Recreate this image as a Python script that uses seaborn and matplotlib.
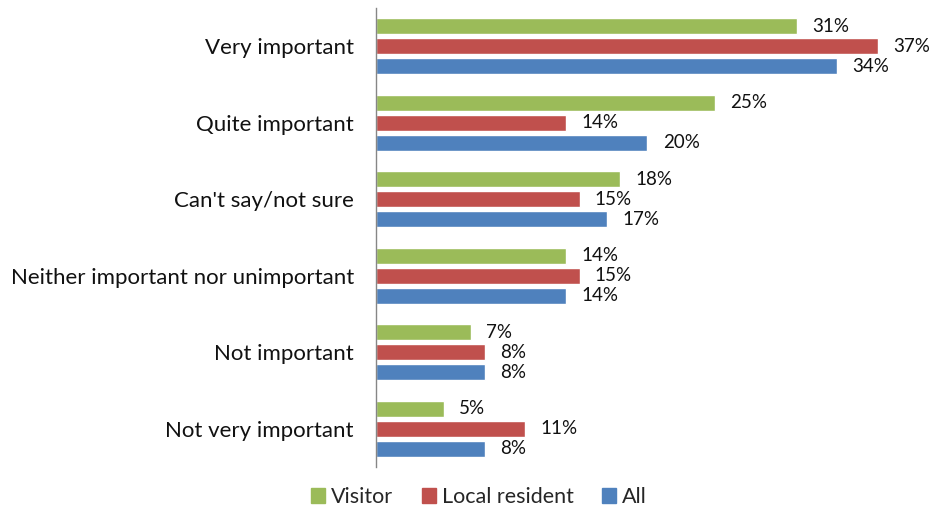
import matplotlib
matplotlib.use("Agg")
import matplotlib.pyplot as plt
import seaborn as sns
import pandas as pd

categories = ["Very important", "Quite important", "Can't say/not sure",
              "Neither important nor unimportant", "Not important", "Not very important"]
groups = ["Visitor", "Local resident", "All"]
visitor = [31, 25, 18, 14, 7, 5]
local_resident = [37, 14, 15, 15, 8, 11]
all_resp = [34, 20, 17, 14, 8, 8]
colors = ["#9BBB59", "#C0504D", "#4F81BD"]

rows = []
for g, vals in zip(groups, [visitor, local_resident, all_resp]):
    for c, v in zip(categories, vals):
        rows.append({"category": c, "group": g, "value": v})
df = pd.DataFrame(rows)

sns.set_theme(style="white")
plt.rcParams["font.family"] = ["Lato", "DejaVu Sans"]

fig = plt.figure(figsize=(9.3, 5.09), dpi=100)
ax = fig.add_axes([376 / 930, 1 - 467 / 509, 554 / 930, 459 / 509])

sns.barplot(data=df, y="category", x="value", hue="group", order=categories,
            hue_order=groups, palette=colors, orient="h", width=0.78, gap=0.2,
            saturation=1, ax=ax, legend=False)

for container in ax.containers:
    ax.bar_label(container, labels=[f"{int(v)}%" for v in container.datavalues],
                 padding=11, fontsize=13.5, color="#111111", clip_on=False)

ax.set_xlim(0, 554 / 13.57)
ax.set_ylim(5.5, -0.5)
ax.set_xlabel("")
ax.set_ylabel("")
ax.set_xticks([])
ax.tick_params(axis="y", length=0, pad=16, labelsize=16, labelcolor="#111111")
for side in ["top", "right", "bottom"]:
    ax.spines[side].set_visible(False)
ax.spines["left"].set_color("#868686")
ax.spines["left"].set_linewidth(1.0)

handles = [plt.Rectangle((0, 0), 1, 1, color=c) for c in colors]
fig.legend(handles, groups, loc="center", bbox_to_anchor=(479 / 930, 1 - 497 / 509),
           ncol=3, frameon=False, fontsize=15.5, handlelength=0.65, handleheight=0.65,
           handletextpad=0.3, columnspacing=1.3)

fig.savefig("out.png", dpi=100)
